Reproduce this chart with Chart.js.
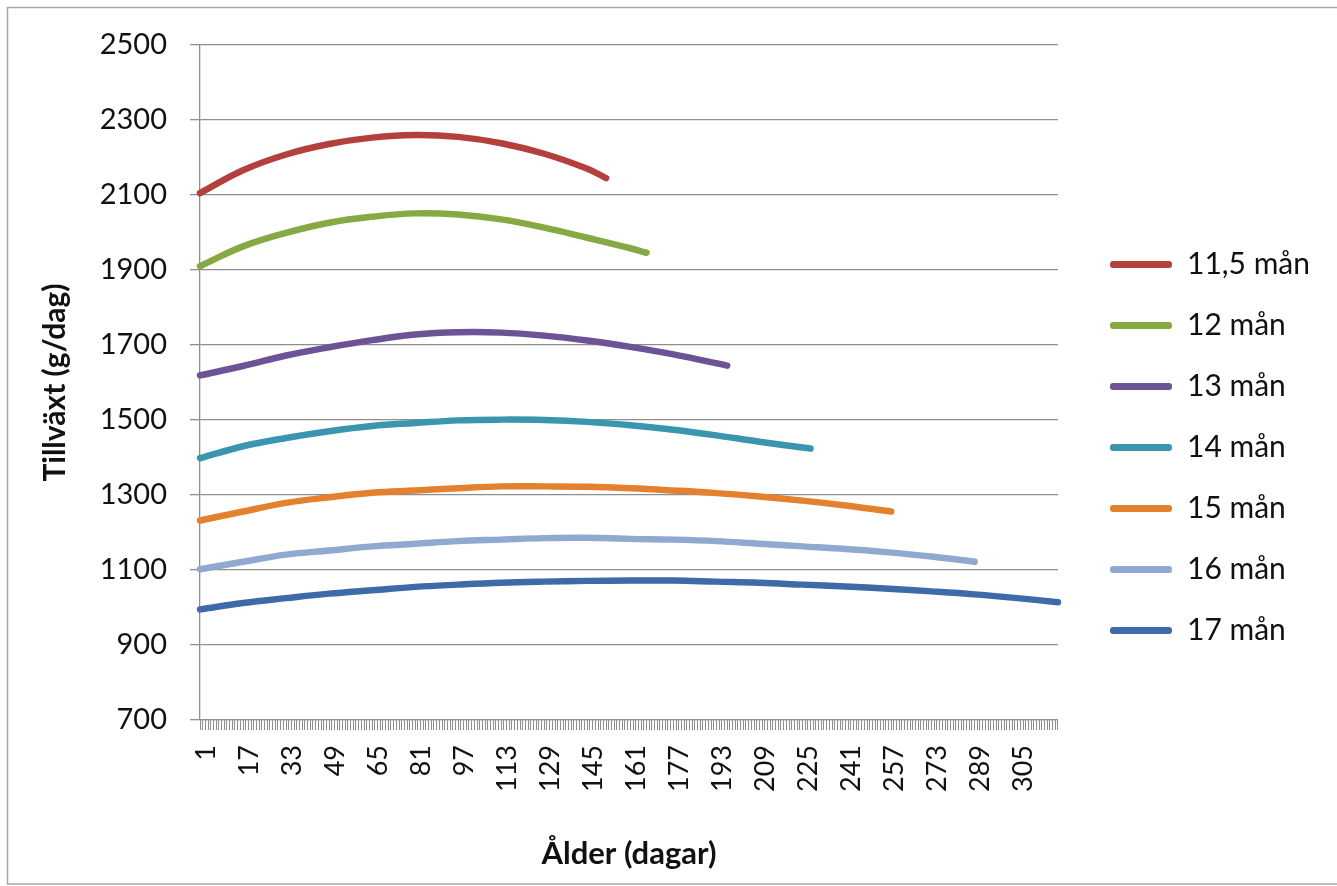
<!DOCTYPE html>
<html>
<head>
<meta charset="utf-8">
<script src="https://cdn.jsdelivr.net/npm/chart.js@4.4.1/dist/chart.umd.min.js"></script>
<style>
  body { margin: 0; background: #fff; }
  #wrap { width: 1337px; height: 886px; position: relative; }
</style>
</head>
<body>
<div id="wrap"><canvas id="chart"></canvas></div>
<script>
// x axis: one category per day of age
const days = []
for (let d = 1; d <= 320; d++) days.push(d)

const seriesNames = ["11,5 mån", "12 mån", "13 mån", "14 mån", "15 mån", "16 mån", "17 mån"]
const seriesColors = ["#b3403c", "#86a944", "#6e5296", "#3a96ae", "#e3812f", "#8fa9d0", "#3e6ba7"]

// values (g/dag) at the given days
const days115 = [1, 17, 33, 49, 65, 81, 97, 113, 129, 145, 152]
const gain115 = [2105, 2166, 2208, 2236, 2253, 2260, 2255, 2238, 2210, 2170, 2145]

const days12 = [1, 17, 33, 49, 65, 81, 97, 113, 129, 145, 161, 167]
const gain12 = [1910, 1963, 1999, 2026, 2042, 2051, 2048, 2035, 2013, 1986, 1958, 1946]

const days13 = [1, 17, 33, 49, 65, 81, 97, 113, 129, 145, 161, 177, 197]
const gain13 = [1619, 1644, 1672, 1694, 1713, 1728, 1734, 1733, 1725, 1712, 1695, 1675, 1645]

const days14 = [1, 17, 33, 49, 65, 81, 97, 113, 129, 145, 161, 177, 193, 209, 228]
const gain14 = [1398, 1430, 1452, 1470, 1484, 1492, 1499, 1501, 1500, 1495, 1486, 1474, 1459, 1442, 1424]

const days15 = [1, 17, 33, 49, 65, 81, 97, 113, 129, 145, 161, 177, 193, 209, 225, 241, 258]
const gain15 = [1232, 1256, 1279, 1294, 1306, 1312, 1318, 1323, 1323, 1322, 1318, 1312, 1305, 1296, 1285, 1272, 1256]

const days16 = [1, 17, 33, 49, 65, 81, 97, 113, 129, 145, 161, 177, 193, 209, 225, 241, 257, 273, 289]
const gain16 = [1102, 1122, 1141, 1152, 1163, 1170, 1177, 1181, 1185, 1186, 1183, 1181, 1177, 1170, 1163, 1156, 1147, 1136, 1122]

const days17 = [1, 17, 33, 49, 65, 81, 97, 113, 129, 145, 161, 177, 193, 209, 225, 241, 257, 273, 289, 305, 320]
const gain17 = [995, 1012, 1025, 1037, 1046, 1055, 1061, 1066, 1069, 1071, 1072, 1072, 1069, 1066, 1061, 1056, 1050, 1043, 1035, 1025, 1014]

const allDays = [days115, days12, days13, days14, days15, days16, days17]
const allGain = [gain115, gain12, gain13, gain14, gain15, gain16, gain17]

const font = "Lato, 'Liberation Sans', sans-serif"
const gridGray = "#8e8e8e"

let datasets = seriesNames.map((name, s) => ({
  label: name,
  data: allDays[s].map((d, i) => ({ x: d, y: allGain[s][i] })),
  borderColor: seriesColors[s],
  backgroundColor: seriesColors[s],
  borderWidth: 6.5,
  borderCapStyle: "round",
  pointRadius: 0,
  tension: 0.4,
  clip: false
}))

// outer frame like the spreadsheet chart box
const frame = {
  id: "frame",
  afterDraw(chart) {
    let ctx = chart.ctx
    ctx.save()
    ctx.strokeStyle = "#a6a6a6"
    ctx.lineWidth = 1.5
    ctx.beginPath()
    ctx.moveTo(1337, 7.5)
    ctx.lineTo(7.5, 7.5)
    ctx.lineTo(7.5, 884)
    ctx.lineTo(1337, 884)
    ctx.stroke()
    ctx.restore()
  }
}

// nudge the legend block: a bit right of the plot, centred a bit higher
const legendNudge = {
  id: "legendNudge",
  afterLayout(chart) {
    let l = chart.legend
    let dx = 1110 - (l.left + l.options.labels.padding)
    l.left += dx
    l.right += dx
    l.top -= 18
    l.bottom -= 18
  }
}

new Chart(document.getElementById("chart"), {
  type: "line",
  data: { labels: days, datasets: datasets },
  plugins: [frame, legendNudge],
  options: {
    responsive: true,
    maintainAspectRatio: false,
    animation: false,
    layout: { padding: { top: 45, right: 38, bottom: 0, left: 0 } },
    plugins: {
      tooltip: { enabled: false },
      legend: {
        position: "right",
        labels: {
          color: "#111",
          font: { family: font, size: 30 },
          boxWidth: 62,
          boxHeight: 7,
          useBorderRadius: true,
          borderRadius: 3,
          padding: 31,
          generateLabels(chart) {
            return Chart.defaults.plugins.legend.labels.generateLabels(chart)
              .map(l => Object.assign(l, { lineWidth: 0 }))
          }
        }
      }
    },
    scales: {
      x: {
        type: "category",
        offset: false,
        border: { color: gridGray, width: 1.3 },
        grid: { drawOnChartArea: false, drawTicks: true, tickLength: 10, color: gridGray },
        ticks: {
          autoSkip: false,
          minRotation: 90,
          maxRotation: 90,
          padding: 15,
          labelOffset: 6,
          color: "#111",
          font: { family: font, size: 27 },
          callback: function (val, i) {
            return i % 16 === 0 ? this.getLabelForValue(val) : ""
          }
        },
        title: {
          display: true,
          text: "Ålder (dagar)",
          color: "#111",
          font: { family: font, size: 31, weight: "bold" },
          padding: { top: 0, bottom: 13 }
        },
        afterFit(scale) { scale.height = 166 }
      },
      y: {
        min: 700,
        max: 2500,
        border: { color: gridGray, width: 1.3 },
        grid: { color: gridGray, lineWidth: 1.3, tickLength: 10 },
        ticks: {
          stepSize: 200,
          padding: 23,
          color: "#111",
          font: { family: font, size: 29 },
          callback: v => String(v)
        },
        title: {
          display: true,
          text: "Tillväxt (g/dag)",
          color: "#111",
          font: { family: font, size: 30, weight: "bold" },
          padding: { top: 37, bottom: 0 }
        },
        afterFit(scale) { scale.width = 200 }
      }
    }
  }
})
</script>
</body>
</html>
